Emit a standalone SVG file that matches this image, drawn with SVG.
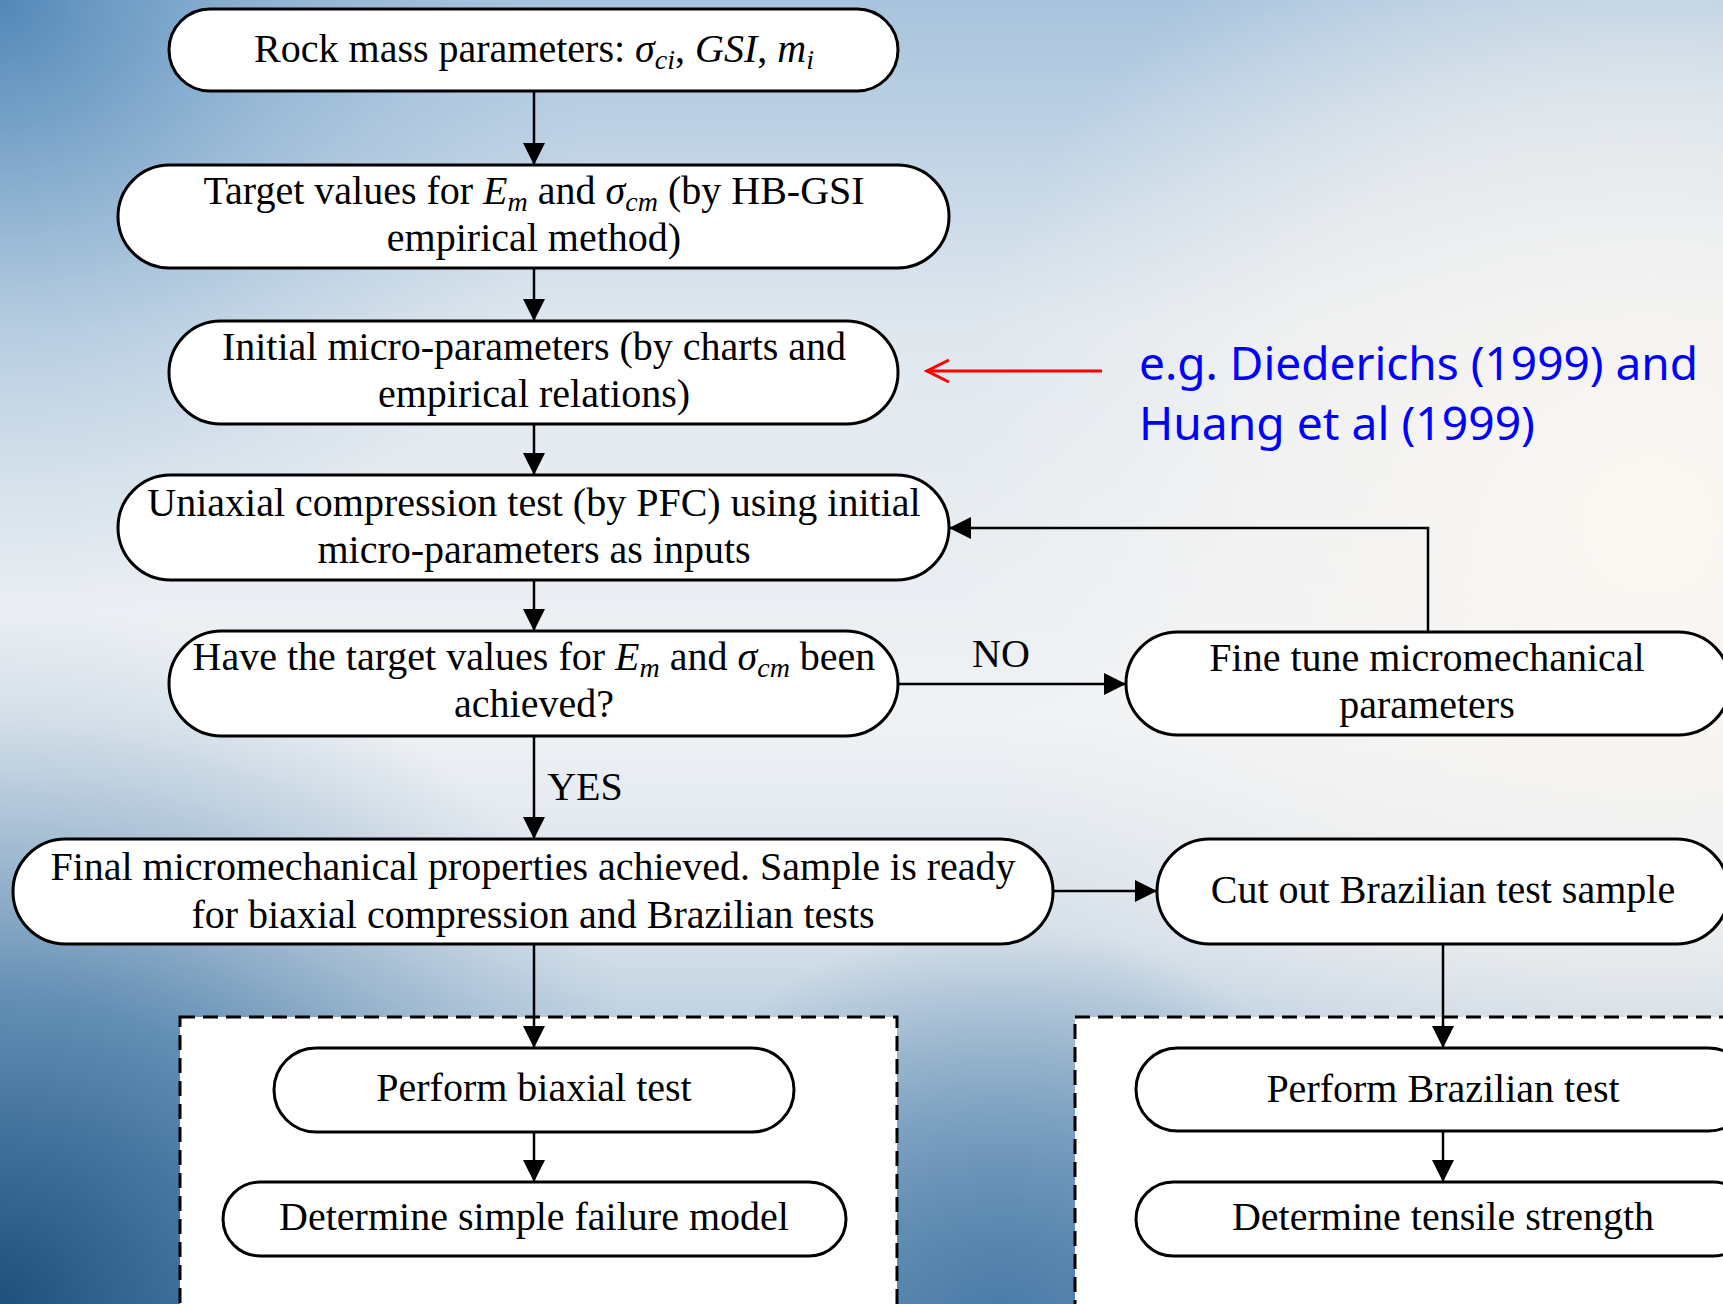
<svg xmlns="http://www.w3.org/2000/svg" width="1723" height="1304" viewBox="0 0 1723 1304">
<defs>
<linearGradient id="bgv" x1="0" y1="0" x2="0" y2="1">
<stop offset="0" stop-color="#a7c3dd"/>
<stop offset="0.25" stop-color="#dfe7ee"/>
<stop offset="0.55" stop-color="#eff2f5"/>
<stop offset="0.72" stop-color="#d6e0e9"/>
<stop offset="0.86" stop-color="#a4bfd6"/>
<stop offset="1" stop-color="#7a9fc2"/>
</linearGradient>
<radialGradient id="tl" cx="0" cy="0" r="620" gradientUnits="userSpaceOnUse">
<stop offset="0" stop-color="#4d84b5" stop-opacity="0.95"/>
<stop offset="0.5" stop-color="#7aa6cc" stop-opacity="0.45"/>
<stop offset="1" stop-color="#a7c3dd" stop-opacity="0"/>
</radialGradient>
<radialGradient id="bl" cx="0" cy="1304" r="700" gradientUnits="userSpaceOnUse">
<stop offset="0" stop-color="#1f4f7b" stop-opacity="1"/>
<stop offset="0.45" stop-color="#3d73a2" stop-opacity="0.7"/>
<stop offset="1" stop-color="#7aa0c2" stop-opacity="0"/>
</radialGradient>
<radialGradient id="cr" cx="1650" cy="520" r="700" gradientUnits="userSpaceOnUse">
<stop offset="0" stop-color="#fcf8f3" stop-opacity="1"/>
<stop offset="0.6" stop-color="#f8f5f2" stop-opacity="0.6"/>
<stop offset="1" stop-color="#f4f4f4" stop-opacity="0"/>
</radialGradient>
<radialGradient id="bc" cx="1000" cy="1320" r="400" gradientUnits="userSpaceOnUse">
<stop offset="0" stop-color="#3e72a0" stop-opacity="0.8"/>
<stop offset="1" stop-color="#3e72a0" stop-opacity="0"/>
</radialGradient>
<marker id="ah" markerUnits="userSpaceOnUse" markerWidth="24" markerHeight="24" refX="22" refY="11" orient="auto">
<path d="M0,0 L22,11 L0,22 z" fill="#000"/>
</marker>
<marker id="ahr" markerUnits="userSpaceOnUse" markerWidth="26" markerHeight="26" refX="23" refY="12" orient="auto">
<path d="M1,1 L23,12 L1,23" fill="none" stroke="#ff0000" stroke-width="3"/>
</marker>
</defs>
<style>
.node rect { fill: #ffffff; stroke: #000000; stroke-width: 3; }
.t { font-family: "Liberation Serif", "Times New Roman", serif; font-size: 40px; fill: #000000; text-anchor: middle; }
.i { font-style: italic; }
.sub { font-size: 28px; font-style: italic; }
.conn { stroke: #000000; stroke-width: 2.5; fill: none; }
.dash { fill: #ffffff; stroke: #000000; stroke-width: 3; stroke-dasharray: 15 8; }
.blue { font-family: "Noto Sans", "Open Sans", sans-serif; font-size: 46px; fill: #0000ff; }
</style>

<g id="background">
<rect x="0" y="0" width="1723" height="1304" fill="url(#bgv)"/>
<rect x="0" y="0" width="1723" height="1304" fill="url(#tl)"/>
<rect x="0" y="0" width="1723" height="1304" fill="url(#cr)"/>
<rect x="0" y="0" width="1723" height="1304" fill="url(#bc)"/>
<rect x="0" y="0" width="1723" height="1304" fill="url(#bl)"/>
</g>

<g id="group-biaxial">
<rect class="dash" x="180" y="1017" width="717" height="300"/>
</g>
<g id="group-brazilian">
<rect class="dash" x="1075" y="1017" width="700" height="300"/>
</g>

<g id="connectors">
<line class="conn" x1="534" y1="91" x2="534" y2="165" marker-end="url(#ah)"/>
<line class="conn" x1="534" y1="268" x2="534" y2="321" marker-end="url(#ah)"/>
<line class="conn" x1="534" y1="424" x2="534" y2="475" marker-end="url(#ah)"/>
<line class="conn" x1="534" y1="580" x2="534" y2="631" marker-end="url(#ah)"/>
<line class="conn" x1="534" y1="736" x2="534" y2="839" marker-end="url(#ah)"/>
<line class="conn" x1="898" y1="684" x2="1126" y2="684" marker-end="url(#ah)"/>
<polyline class="conn" points="1428,632 1428,528 949,528" marker-end="url(#ah)"/>
<line class="conn" x1="1053" y1="891" x2="1157" y2="891" marker-end="url(#ah)"/>
<line class="conn" x1="534" y1="944" x2="534" y2="1048" marker-end="url(#ah)"/>
<line class="conn" x1="534" y1="1132" x2="534" y2="1182" marker-end="url(#ah)"/>
<line class="conn" x1="1443" y1="944" x2="1443" y2="1048" marker-end="url(#ah)"/>
<line class="conn" x1="1443" y1="1131" x2="1443" y2="1182" marker-end="url(#ah)"/>
<line x1="1102" y1="371" x2="927" y2="371" stroke="#ff0000" stroke-width="3" marker-end="url(#ahr)"/>
<text class="t" x="1001" y="667">NO</text>
<text class="t" x="585" y="800">YES</text>
</g>

<g id="node-rock" class="node">
<rect x="169" y="9" width="729" height="82" rx="41" ry="41"/>
<text class="t" x="534" y="62">Rock mass parameters: <tspan class="i">σ</tspan><tspan class="sub" dy="7">ci</tspan><tspan dy="-7">, </tspan><tspan class="i">GSI</tspan>, <tspan class="i">m</tspan><tspan class="sub" dy="7">i</tspan></text>
</g>

<g id="node-target" class="node">
<rect x="118" y="165" width="831" height="103" rx="51.5" ry="51.5"/>
<text class="t" x="534" y="204">Target values for <tspan class="i">E</tspan><tspan class="sub" dy="7">m</tspan><tspan dy="-7"> and </tspan><tspan class="i">σ</tspan><tspan class="sub" dy="7">cm</tspan><tspan dy="-7"> (by HB-GSI</tspan></text>
<text class="t" x="534" y="251">empirical method)</text>
</g>

<g id="node-initial" class="node">
<rect x="169" y="321" width="729" height="103" rx="51.5" ry="51.5"/>
<text class="t" x="534" y="360">Initial micro-parameters (by charts and</text>
<text class="t" x="534" y="407">empirical relations)</text>
</g>

<g id="node-uniaxial" class="node">
<rect x="118" y="475" width="831" height="105" rx="52.5" ry="52.5"/>
<text class="t" x="534" y="516">Uniaxial compression test (by PFC) using initial</text>
<text class="t" x="534" y="563">micro-parameters as inputs</text>
</g>

<g id="node-check" class="node">
<rect x="169" y="631" width="729" height="105" rx="52.5" ry="52.5"/>
<text class="t" x="534" y="670">Have the target values for <tspan class="i">E</tspan><tspan class="sub" dy="7">m</tspan><tspan dy="-7"> and </tspan><tspan class="i">σ</tspan><tspan class="sub" dy="7">cm</tspan><tspan dy="-7"> been</tspan></text>
<text class="t" x="534" y="717">achieved?</text>
</g>

<g id="node-finetune" class="node">
<rect x="1126" y="632" width="604" height="103" rx="51.5" ry="51.5"/>
<text class="t" x="1427" y="671">Fine tune micromechanical</text>
<text class="t" x="1427" y="718">parameters</text>
</g>

<g id="node-final" class="node">
<rect x="13" y="839" width="1040" height="105" rx="52.5" ry="52.5"/>
<text class="t" x="533" y="880">Final micromechanical properties achieved. Sample is ready</text>
<text class="t" x="533" y="928">for biaxial compression and Brazilian tests</text>
</g>

<g id="node-cutout" class="node">
<rect x="1157" y="839" width="572" height="105" rx="52.5" ry="52.5"/>
<text class="t" x="1443" y="903">Cut out Brazilian test sample</text>
</g>

<g id="node-biaxial" class="node">
<rect x="274" y="1048" width="520" height="84" rx="42" ry="42"/>
<text class="t" x="534" y="1101">Perform biaxial test</text>
</g>

<g id="node-failure" class="node">
<rect x="223" y="1182" width="623" height="74" rx="37" ry="37"/>
<text class="t" x="534" y="1230">Determine simple failure model</text>
</g>

<g id="node-brazilian" class="node">
<rect x="1136" y="1048" width="614" height="83" rx="41.5" ry="41.5"/>
<text class="t" x="1443" y="1102">Perform Brazilian test</text>
</g>

<g id="node-tensile" class="node">
<rect x="1136" y="1182" width="614" height="74" rx="37" ry="37"/>
<text class="t" x="1443" y="1230">Determine tensile strength</text>
</g>

<g id="note">
<text class="blue" x="1139" y="380" textLength="559" lengthAdjust="spacingAndGlyphs">e.g. Diederichs (1999) and</text>
<text class="blue" x="1139" y="440" textLength="396" lengthAdjust="spacingAndGlyphs">Huang et al (1999)</text>
</g>
</svg>
